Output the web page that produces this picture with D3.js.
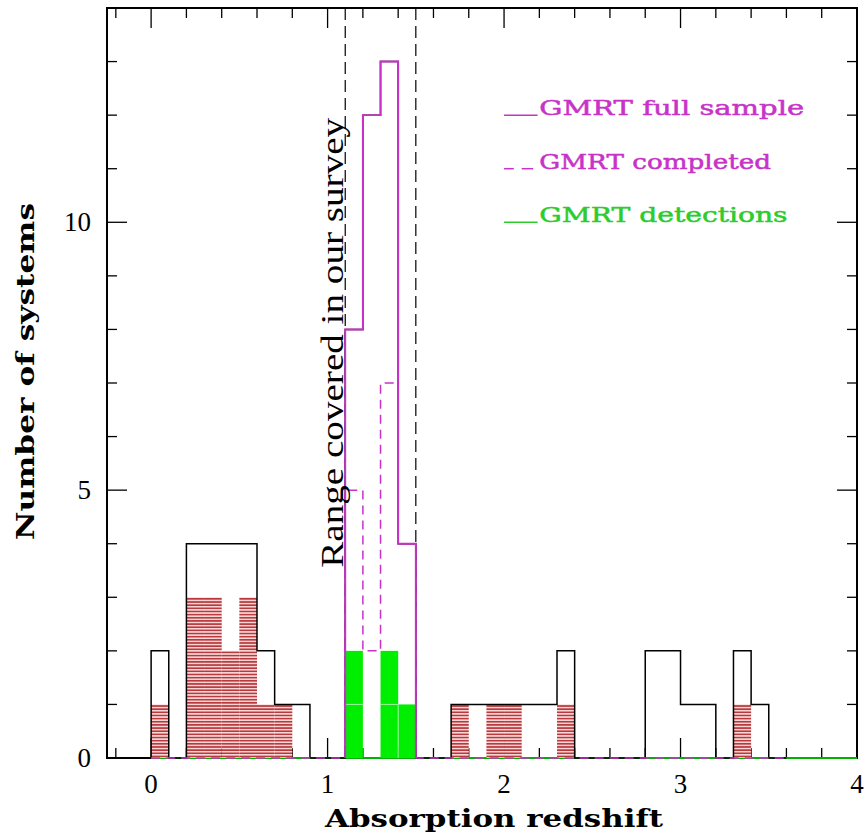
<!DOCTYPE html>
<html>
<head>
<meta charset="utf-8">
<script src="https://cdn.jsdelivr.net/npm/d3@7"></script>
<style>
  body { margin: 0; background: #ffffff; }
  svg { display: block; }
</style>
</head>
<body>
<div class="mainWrapper"></div>
<script>
// bin lower edges (width 0.1) and counts
var binWidth = 0.1;
var binStarts = [0.0, 0.1, 0.2, 0.3, 0.4, 0.5, 0.6, 0.7, 0.8, 0.9,
                 1.0, 1.1, 1.2, 1.3, 1.4, 1.5, 1.6, 1.7, 1.8, 1.9,
                 2.0, 2.1, 2.2, 2.3, 2.4, 2.5, 2.6, 2.7, 2.8, 2.9,
                 3.0, 3.1, 3.2, 3.3, 3.4, 3.5];
var allSystems = [2, 0, 4, 4, 4, 4, 2, 1, 1, 0,
                  0, 8, 12, 13, 4, 0, 0, 1, 1, 1,
                  1, 1, 1, 2, 0, 0, 0, 0, 2, 2,
                  1, 1, 0, 2, 1, 0];
var hatchedSystems = [1, 0, 3, 3, 2, 3, 1, 1, 0, 0,
                      0, 0, 0, 0, 0, 0, 0, 1, 0, 1,
                      1, 0, 0, 1, 0, 0, 0, 0, 0, 0,
                      0, 0, 0, 1, 0, 0];

// GMRT sample, inside the surveyed range
var gmrtBins = [1.1, 1.2, 1.3, 1.4];
var gmrtFull = [8, 12, 13, 4];
var gmrtCompleted = [5, 2, 7, 4];
var gmrtDetected = [2, 0, 2, 1];

var surveyRange = [1.1, 1.5];
var xTicks = [0, 1, 2, 3, 4];
var yTicks = [0, 5, 10];
var legendItems = ["GMRT full sample", "GMRT completed", "GMRT detections"];

var magenta = "#c832c8", green = "#00ee00", greenText = "#2ccc2c";

var margin = {top: 8, right: 7, bottom: 79, left: 107},
    width = 864 - margin.left - margin.right,
    height = 837 - margin.top - margin.bottom;

var svg = d3.select(".mainWrapper")
  .append("svg")
    .attr("width", 864)
    .attr("height", 837);

var g = svg.append("g")
    .attr("transform", "translate(" + margin.left + "," + margin.top + ")");

var x = d3.scaleLinear().domain([-0.25, 4]).range([0, width]);
var y = d3.scaleLinear().domain([0, 14]).range([height, 0]);

var line = d3.line()
  .x(function(d) { return x(d[0]); })
  .y(function(d) { return y(d[1]); });

function stepPoints(starts, vals) {
  var pts = [[starts[0], 0]];
  starts.forEach(function(s, i) {
    pts.push([s, vals[i]]);
    pts.push([s + binWidth, vals[i]]);
  });
  pts.push([starts[starts.length - 1] + binWidth, 0]);
  return pts;
}

// hatch pattern, 17 lines per unit
var defs = svg.append("defs");
var hh = (y(0) - y(1)) / 17;
var pat = defs.append("pattern")
  .attr("id", "hatch")
  .attr("patternUnits", "userSpaceOnUse")
  .attr("width", 10)
  .attr("height", hh)
  .attr("y", y(0));
pat.append("rect").attr("width", 10).attr("height", hh).attr("fill", "#f6d4d4");
pat.append("line").attr("x1", 0).attr("x2", 10)
  .attr("y1", hh / 2).attr("y2", hh / 2)
  .attr("stroke", "#b0262a").attr("stroke-width", 1.4);

// frame first, histograms sit on top of its bottom edge
g.append("rect")
  .attr("width", width).attr("height", height)
  .attr("fill", "none").attr("stroke", "#000").attr("stroke-width", 2);

// ticks on all four sides
var ticks = g.append("g").attr("stroke", "#000").attr("stroke-width", 1.3);
d3.range(-2, 40, 2).forEach(function(t) {
  var v = t / 10, major = (t % 10 === 0), len = major ? 20 : 10;
  ticks.append("line").attr("x1", x(v)).attr("x2", x(v)).attr("y1", y(0)).attr("y2", y(0) - len);
  ticks.append("line").attr("x1", x(v)).attr("x2", x(v)).attr("y1", y(14)).attr("y2", y(14) + len);
});
d3.range(1, 14).forEach(function(v) {
  var major = (v % 5 === 0), len = major ? 20 : 10;
  ticks.append("line").attr("x1", 0).attr("x2", len).attr("y1", y(v)).attr("y2", y(v));
  ticks.append("line").attr("x1", width).attr("x2", width - len).attr("y1", y(v)).attr("y2", y(v));
});

// green detections (drawn first, baseline out to z=4)
g.append("line")
  .attr("x1", x(0)).attr("x2", x(4))
  .attr("y1", y(0)).attr("y2", y(0))
  .attr("stroke", green).attr("stroke-width", 1.3);

g.append("g").selectAll("rect")
  .data(gmrtBins.map(function(b, i) { return [b, gmrtDetected[i]]; }).filter(function(d) { return d[1] > 0; }))
  .enter().append("rect")
    .attr("x", function(d) { return x(d[0]); })
    .attr("width", function(d) { return x(d[0] + binWidth) - x(d[0]); })
    .attr("y", function(d) { return y(d[1]); })
    .attr("height", function(d) { return y(0) - y(d[1]); })
    .attr("fill", green);

// pale unit boundaries inside the green bars
var pale = g.append("g").attr("stroke", "#9df29d").attr("stroke-width", 1);
gmrtBins.forEach(function(b, i) {
  for (var k = 1; k < gmrtDetected[i]; k++) {
    pale.append("line")
      .attr("x1", x(b)).attr("x2", x(b + binWidth))
      .attr("y1", y(k)).attr("y2", y(k));
  }
  if (i > 0 && gmrtDetected[i] > 0 && gmrtDetected[i - 1] > 0) {
    pale.append("line")
      .attr("x1", x(b)).attr("x2", x(b))
      .attr("y1", y(0)).attr("y2", y(Math.min(gmrtDetected[i], gmrtDetected[i - 1])));
  }
});

// hatched subset
g.append("g").selectAll("rect")
  .data(binStarts.map(function(b, i) { return [b, hatchedSystems[i]]; }).filter(function(d) { return d[1] > 0; }))
  .enter().append("rect")
    .attr("x", function(d) { return x(d[0]); })
    .attr("width", function(d) { return x(d[0] + binWidth) - x(d[0]); })
    .attr("y", function(d) { return y(d[1]); })
    .attr("height", function(d) { return y(0) - y(d[1]); })
    .attr("fill", "url(#hatch)");

// all systems
g.append("path")
  .datum(stepPoints(binStarts, allSystems))
  .attr("fill", "none")
  .attr("stroke", "#000")
  .attr("stroke-width", 1.5)
  .attr("d", line);

// survey range
g.append("g").selectAll("line")
  .data(surveyRange)
  .enter().append("line")
    .attr("x1", function(d) { return x(d); })
    .attr("x2", function(d) { return x(d); })
    .attr("y1", y(14)).attr("y2", y(0))
    .attr("stroke", "#000")
    .attr("stroke-width", 1.2)
    .attr("stroke-dasharray", "12,6");

// GMRT full sample
g.append("path")
  .datum(stepPoints(gmrtBins, gmrtFull))
  .attr("fill", "none")
  .attr("stroke", magenta)
  .attr("stroke-width", 1.9)
  .attr("d", line);

// GMRT completed, dashed, over the whole redshift range
var completedAll = binStarts.map(function(b) {
  var j = gmrtBins.findIndex(function(c) { return Math.abs(c - b) < 1e-6; });
  return j >= 0 ? gmrtCompleted[j] : 0;
});
g.append("path")
  .datum(stepPoints(binStarts, completedAll))
  .attr("fill", "none")
  .attr("stroke", magenta)
  .attr("stroke-width", 1.5)
  .attr("stroke-dasharray", "9,6")
  .attr("d", line);

// tick labels
g.append("g").selectAll("text")
  .data(xTicks)
  .enter().append("text")
    .attr("x", function(d) { return x(d); })
    .attr("y", height + 35)
    .attr("text-anchor", "middle")
    .style("font-family", "Liberation Serif")
    .style("font-size", "27px")
    .text(function(d) { return d; });

g.append("g").selectAll("text")
  .data(yTicks)
  .enter().append("text")
    .attr("x", -16)
    .attr("y", function(d) { return y(d); })
    .attr("dy", "0.33em")
    .attr("text-anchor", "end")
    .style("font-family", "Liberation Serif")
    .style("font-size", "27px")
    .text(function(d) { return d; });

// axis titles
svg.append("text")
  .attr("x", 325).attr("y", 827)
  .attr("textLength", 338).attr("lengthAdjust", "spacingAndGlyphs")
  .style("font-family", "DejaVu Serif").style("font-weight", "bold")
  .style("font-size", "25px")
  .text("Absorption redshift");

svg.append("text")
  .attr("transform", "translate(34,540) rotate(-90)")
  .attr("textLength", 337).attr("lengthAdjust", "spacingAndGlyphs")
  .style("font-family", "DejaVu Serif").style("font-weight", "bold")
  .style("font-size", "25px")
  .text("Number of systems");

// survey range annotation
g.append("text")
  .attr("transform", "translate(" + x(1.09) + "," + y(3.55) + ") rotate(-90)")
  .attr("textLength", 450).attr("lengthAdjust", "spacingAndGlyphs")
  .style("font-family", "Liberation Serif")
  .style("font-size", "31px")
  .text("Range covered in our survey");

// legend, placed in data coordinates
var legendY = [12, 11, 10];
var legendColor = [magenta, magenta, greenText];
legendItems.forEach(function(name, i) {
  var yy = y(legendY[i]);
  if (i === 1) {
    g.append("line").attr("x1", x(2.0)).attr("x2", x(2.055)).attr("y1", yy).attr("y2", yy)
      .attr("stroke", legendColor[i]).attr("stroke-width", 1.5);
    g.append("line").attr("x1", x(2.1)).attr("x2", x(2.165)).attr("y1", yy).attr("y2", yy)
      .attr("stroke", legendColor[i]).attr("stroke-width", 1.5);
  } else {
    g.append("line").attr("x1", x(2.0)).attr("x2", x(2.19)).attr("y1", yy).attr("y2", yy)
      .attr("stroke", legendColor[i]).attr("stroke-width", 1.5);
  }
  g.append("text")
    .attr("x", x(2.2)).attr("y", yy)
    .attr("textLength", name.length * 16.55).attr("lengthAdjust", "spacingAndGlyphs")
    .style("font-family", "DejaVu Serif")
    .style("font-size", "21px")
    .style("fill", legendColor[i])
    .style("stroke", legendColor[i])
    .style("stroke-width", 0.5)
    .text(name);
});
</script>
</body>
</html>
